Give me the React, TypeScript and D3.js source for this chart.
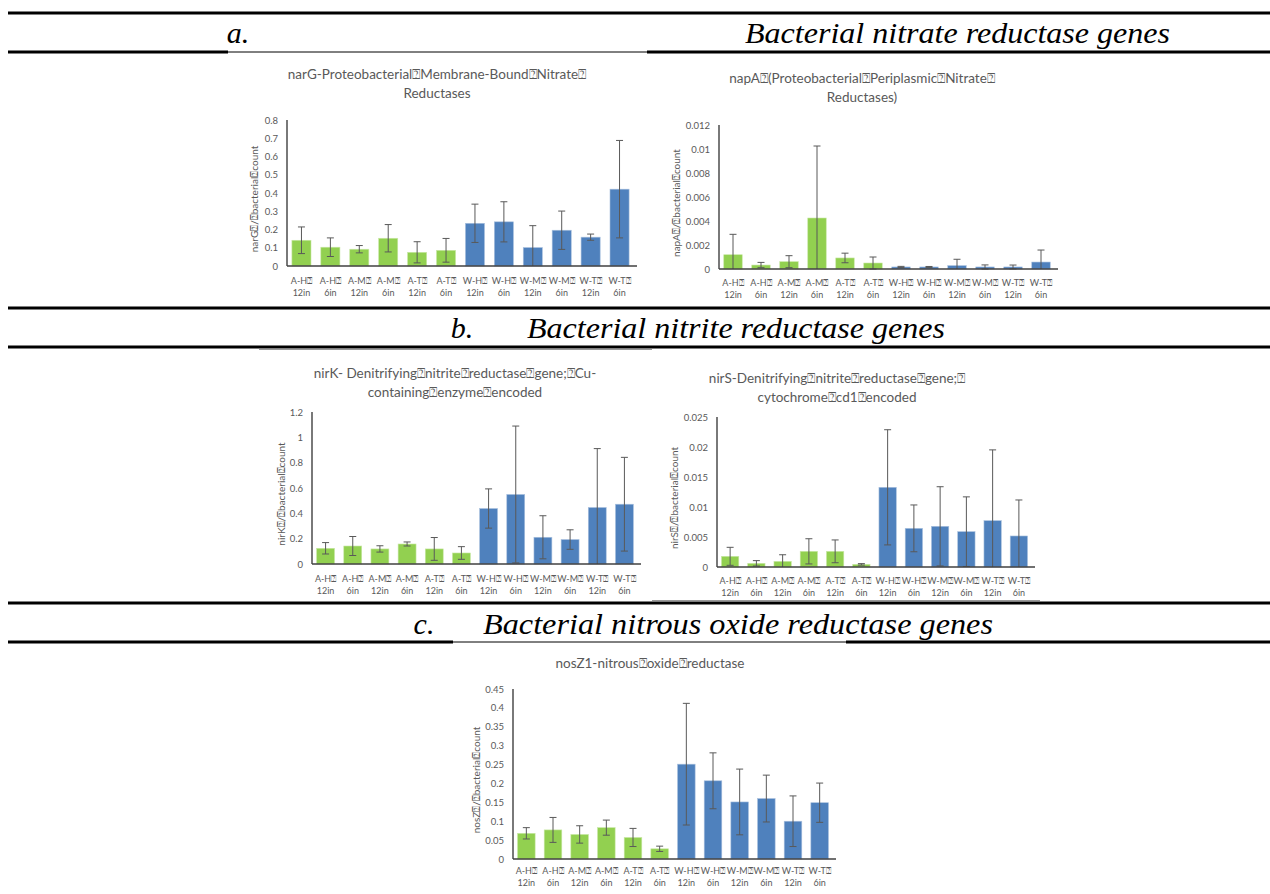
import React from 'react';
import * as d3 from 'd3';

const Q = '\u2370';

// categories
const sites = ['A-H', 'A-H', 'A-M', 'A-M', 'A-T', 'A-T', 'W-H', 'W-H', 'W-M', 'W-M', 'W-T', 'W-T'];
const depths = ['12in', '6in', '12in', '6in', '12in', '6in', '12in', '6in', '12in', '6in', '12in', '6in'];

// narG
const narGValues = [0.141, 0.103, 0.092, 0.152, 0.075, 0.086, 0.234, 0.242, 0.101, 0.196, 0.158, 0.421];
const narGErrors = [0.073, 0.051, 0.02, 0.075, 0.058, 0.065, 0.105, 0.11, 0.12, 0.105, 0.017, 0.267];
const narGTicks = ['0', '0.1', '0.2', '0.3', '0.4', '0.5', '0.6', '0.7', '0.8'];

// napA
const napAValues = [0.00119, 0.00033, 0.00061, 0.00425, 0.00092, 0.0005, 0.00017, 0.00017, 0.00028, 0.00017, 0.00017, 0.00058];
const napAErrors = [0.0017, 0.00022, 0.0005, 0.006, 0.0004, 0.0005, 0.00005, 0.00004, 0.00053, 0.00017, 0.00016, 0.001];
const napATicks = ['0', '0.002', '0.004', '0.006', '0.008', '0.01', '0.012'];

// nirK
const nirKValues = [0.124, 0.142, 0.119, 0.158, 0.119, 0.087, 0.438, 0.549, 0.211, 0.193, 0.446, 0.472];
const nirKErrors = [0.045, 0.075, 0.025, 0.016, 0.09, 0.05, 0.155, 0.54, 0.17, 0.077, 0.465, 0.37];
const nirKTicks = ['0', '0.2', '0.4', '0.6', '0.8', '1', '1.2'];

// nirS
const nirSValues = [0.00178, 0.00061, 0.00094, 0.00261, 0.00261, 0.00044, 0.01328, 0.00644, 0.00678, 0.00589, 0.00772, 0.00517];
const nirSErrors = [0.0015, 0.00045, 0.0011, 0.0021, 0.0019, 0.00012, 0.0096, 0.0039, 0.0066, 0.0058, 0.0118, 0.006];
const nirSTicks = ['0', '0.005', '0.01', '0.015', '0.02', '0.025'];

// nosZ1
const nosZValues = [0.068, 0.077, 0.065, 0.083, 0.057, 0.027, 0.251, 0.207, 0.151, 0.16, 0.1, 0.149];
const nosZErrors = [0.015, 0.033, 0.023, 0.02, 0.024, 0.007, 0.161, 0.074, 0.087, 0.062, 0.067, 0.052];
const nosZTicks = ['0', '0.05', '0.1', '0.15', '0.2', '0.25', '0.3', '0.35', '0.4', '0.45'];

const GREEN = '#92D050';
const BLUE = '#4F81BD';
const GREY = '#595959';
const FONT = 'Lato, "Noto Sans", sans-serif';

const BarChart = ({cfg}) => {
  const {values, errors, ticks, title, yLabel, left, right, top, bottom, titleX, titleY, yLabelX, labelY} = cfg;
  const max = +ticks[ticks.length - 1];
  const x = d3.scaleBand().domain(d3.range(values.length)).range([left, right]).paddingInner(0.34).paddingOuter(0.17);
  const y = d3.scaleLinear().domain([0, max]).range([bottom, top]);
  const bw = x.bandwidth();

  return (
    <g fontFamily={FONT} fill={GREY}>
      {title.map((t, i) => (
        <text key={i} x={titleX} y={titleY + i * 19} textAnchor="middle" fontSize={13.5}>{t}</text>
      ))}
      {ticks.map(t => (
        <text key={t} x={left - 9} y={y(+t) + 3.5} textAnchor="end" fontSize={9.5}>{t}</text>
      ))}
      <text transform={`translate(${yLabelX},${(top + bottom) / 2 + 6}) rotate(-90)`} textAnchor="middle" fontSize={10}>{yLabel}</text>
      {values.map((v, i) => (
        <rect key={i} x={x(i)} y={y(v)} width={bw} height={bottom - y(v)}
          fill={sites[i].startsWith('A') ? GREEN : BLUE}
          stroke={sites[i].startsWith('A') ? '#c9e8a6' : '#a9c0de'} strokeWidth={0.6} />
      ))}
      {values.map((v, i) => {
        const cx = x(i) + bw / 2;
        const y1 = y(v + errors[i]);
        const y0 = Math.min(bottom, y(v - errors[i]));
        return (
          <g key={i} stroke={GREY} strokeWidth={1}>
            <line x1={cx} x2={cx} y1={y1} y2={y0} />
            <line x1={cx - 3.5} x2={cx + 3.5} y1={y1} y2={y1} />
            {y(v - errors[i]) <= bottom && <line x1={cx - 3.5} x2={cx + 3.5} y1={y0} y2={y0} />}
          </g>
        );
      })}
      <line x1={left} x2={left} y1={top} y2={bottom} stroke="#404040" strokeWidth={1.4} />
      <line x1={left} x2={right + 3} y1={bottom} y2={bottom} stroke="#404040" strokeWidth={1.4} />
      {sites.map((s, i) => (
        <g key={i}>
          <text x={x(i) + bw / 2} y={labelY} textAnchor="middle" fontSize={9}>{s + Q}</text>
          <text x={x(i) + bw / 2} y={labelY + 12} textAnchor="middle" fontSize={9}>{depths[i]}</text>
        </g>
      ))}
    </g>
  );
};

const charts = [
  {values: narGValues, errors: narGErrors, ticks: narGTicks,
    title: [`narG-Proteobacterial${Q}Membrane-Bound${Q}Nitrate${Q}`, 'Reductases'], yLabel: `narG${Q}/${Q}bacterial${Q}count`,
    left: 287, right: 634, top: 120, bottom: 266, titleX: 437, titleY: 79, yLabelX: 258, labelY: 284},
  {values: napAValues, errors: napAErrors, ticks: napATicks,
    title: [`napA${Q}(Proteobacterial${Q}Periplasmic${Q}Nitrate${Q}`, 'Reductases)'], yLabel: `napA${Q}/${Q}bacterial${Q}count`,
    left: 719, right: 1055, top: 125, bottom: 269, titleX: 862, titleY: 83, yLabelX: 680, labelY: 286},
  {values: nirKValues, errors: nirKErrors, ticks: nirKTicks,
    title: [`nirK- Denitrifying${Q}nitrite${Q}reductase${Q}gene;${Q}Cu-`, `containing${Q}enzyme${Q}encoded`], yLabel: `nirK${Q}/${Q}bacterial${Q}count`,
    left: 312, right: 638, top: 412, bottom: 564, titleX: 455, titleY: 378, yLabelX: 285, labelY: 582},
  {values: nirSValues, errors: nirSErrors, ticks: nirSTicks,
    title: [`nirS-Denitrifying${Q}nitrite${Q}reductase${Q}gene;${Q}`, `cytochrome${Q}cd1${Q}encoded`], yLabel: `nirS${Q}/${Q}bacterial${Q}count`,
    left: 717, right: 1032, top: 417, bottom: 567, titleX: 837, titleY: 383, yLabelX: 678, labelY: 584},
  {values: nosZValues, errors: nosZErrors, ticks: nosZTicks,
    title: [`nosZ1-nitrous${Q}oxide${Q}reductase`], yLabel: `nosZ${Q}/${Q}bacterial${Q}count`,
    left: 513, right: 833, top: 689, bottom: 859, titleX: 650, titleY: 668, yLabelX: 480, labelY: 874},
];

const rules = [
  {y: 13, x1: 8, x2: 1270, w: 3},
  {y: 52, x1: 8, x2: 228, w: 3},
  {y: 52, x1: 228, x2: 647, w: 1},
  {y: 52, x1: 647, x2: 1270, w: 3},
  {y: 308, x1: 8, x2: 1270, w: 3},
  {y: 347, x1: 8, x2: 1270, w: 3},
  {y: 603, x1: 8, x2: 1270, w: 3},
  {y: 642, x1: 8, x2: 453, w: 3},
  {y: 642, x1: 453, x2: 846, w: 1},
  {y: 642, x1: 846, x2: 1270, w: 3},
];

const headers = [
  {label: 'a.', lx: 238, title: 'Bacterial nitrate reductase genes', tx: 745, tw: 425, y: 43},
  {label: 'b.', lx: 462, title: 'Bacterial nitrite reductase genes', tx: 527, tw: 418, y: 338},
  {label: 'c.', lx: 424, title: 'Bacterial nitrous oxide reductase genes', tx: 483, tw: 510, y: 634},
];

export default function App() {
  return (
    <svg width={1270} height={894} style={{position: 'absolute', left: 0, top: 0, background: '#fff'}}>
      {rules.map((r, i) => (
        <line key={i} x1={r.x1} x2={r.x2} y1={r.y} y2={r.y} stroke="#000" strokeWidth={r.w} />
      ))}
      <line x1={259} x2={652} y1={349.5} y2={349.5} stroke="#999" strokeWidth={1} />
      <line x1={652} x2={1040} y1={600.5} y2={600.5} stroke="#999" strokeWidth={1} />
      {headers.map(h => (
        <g key={h.label} fontFamily='"Liberation Serif", "Times New Roman", serif' fontStyle="italic" fontSize={30}>
          <text x={h.lx} y={h.y} textAnchor="middle">{h.label}</text>
          <text x={h.tx} y={h.y} textLength={h.tw} lengthAdjust="spacingAndGlyphs">{h.title}</text>
        </g>
      ))}
      {charts.map((c, i) => <BarChart key={i} cfg={c} />)}
    </svg>
  );
}
